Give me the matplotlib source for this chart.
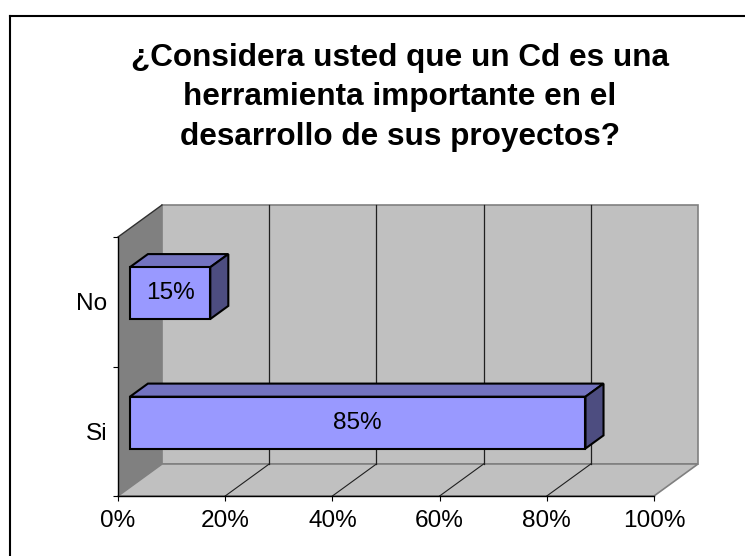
import matplotlib
matplotlib.use('Agg')
import matplotlib.pyplot as plt
from matplotlib.patches import Polygon
from matplotlib.lines import Line2D

# ---- data ----
categories = ['Si', 'No']
values = [85, 15]
bar_labels = ['85%', '15%']
xticks = [0, 20, 40, 60, 80, 100]
xticklabels = ['0%', '20%', '40%', '60%', '80%', '100%']
title = '¿Considera usted que un Cd es una\nherramienta importante en el\ndesarrollo de sus proyectos?'

plt.rcParams['font.family'] = ['Liberation Sans', 'DejaVu Sans']

W, H = 745, 556
fig = plt.figure(figsize=(W / 100, H / 100), dpi=100)
fig.patch.set_facecolor('white')

# front plane of the 3-D box
FX0, FX1, FY0, FY1 = 118, 654, 237, 496
ax = fig.add_axes([FX0 / W, (H - FY1) / H, (FX1 - FX0) / W, (FY1 - FY0) / H])
ax.set_xlim(0, 100)
ax.set_ylim(0, len(categories))
ax.patch.set_visible(False)

# oblique depth (pixels) converted to data units
DX, DY = 44, 32
ddx = DX / (FX1 - FX0) * 100
ddy = DY / (FY1 - FY0) * len(categories)


def P(x, y, d):
    return (x + d * ddx, y + d * ddy)


def poly(pts, fc, ec='none', lw=1.0, z=1):
    ax.add_patch(Polygon([P(*p) for p in pts], closed=True, facecolor=fc,
                         edgecolor=ec, linewidth=lw, clip_on=False, zorder=z))


def line(p0, p1, color, lw, z=2):
    a, b = P(*p0), P(*p1)
    ax.add_line(Line2D([a[0], b[0]], [a[1], b[1]], color=color, lw=lw,
                       clip_on=False, zorder=z))


ncat = len(categories)
xmax = xticks[-1]
# back wall
poly([(0, 0, 1), (xmax, 0, 1), (xmax, ncat, 1), (0, ncat, 1)], '#c0c0c0', '#808080', 1.2, 1)
# floor
poly([(0, 0, 0), (xmax, 0, 0), (xmax, 0, 1), (0, 0, 1)], '#c0c0c0', '#808080', 1.2, 1)
# left wall
poly([(0, 0, 0), (0, 0, 1), (0, ncat, 1), (0, ncat, 0)], '#808080', 'none', 1, 1.5)
line((0, ncat, 0), (0, ncat, 1), '#303030', 1.0, 1.6)

# gridlines on back wall and floor
for v in xticks[1:-1]:
    line((v, 0, 1), (v, ncat, 1), '#202020', 0.9, 1.7)
    line((v, 0, 0), (v, 0, 1), '#202020', 0.8, 1.7)

# bars
d0, d1, h = 0.27, 0.68, 0.4
for i, (val, lab) in enumerate(zip(values, bar_labels)):
    yc = i + 0.5
    y0, y1 = yc - h / 2, yc + h / 2
    z = 3 + i
    poly([(0, y1, d0), (val, y1, d0), (val, y1, d1), (0, y1, d1)], '#7373c0', 'black', 1.5, z)
    poly([(val, y0, d0), (val, y0, d1), (val, y1, d1), (val, y1, d0)], '#4d4d80', 'black', 1.5, z)
    poly([(0, y0, d0), (val, y0, d0), (val, y1, d0), (0, y1, d0)], '#9999ff', 'black', 1.5, z)
    cx, cy = P(val / 2, yc, d0)
    ax.text(cx, cy, lab, ha='center', va='center', fontsize=17.6, color='black', zorder=z + 0.5)

# axes / ticks
for s in ['top', 'right']:
    ax.spines[s].set_visible(False)
for s in ['left', 'bottom']:
    ax.spines[s].set_color('black')
    ax.spines[s].set_linewidth(1.0)
    ax.spines[s].set_zorder(10)
ax.set_xticks(xticks, xticklabels)
ax.set_yticks(list(range(ncat + 1)), [''] * (ncat + 1))
ax.set_yticks([i + 0.5 for i in range(ncat)], categories, minor=True)
ax.tick_params(axis='x', direction='out', length=3.6, width=0.8, pad=6.6, labelsize=17.6)
ax.tick_params(axis='y', which='major', direction='out', length=3.6, width=0.8)
ax.tick_params(axis='y', which='minor', length=0, pad=7.6, labelsize=17.6)

# title
fig.text(400 / W, 1 - 43 / H, title, ha='center', va='top', fontsize=22.7,
         fontweight='bold', linespacing=1.41)

# chart border (top and left visible, extends past image edge)
fig.add_artist(Line2D([10 / W, 10 / W], [0, 1 - 16 / H], transform=fig.transFigure,
                      color='black', lw=1.5))
fig.add_artist(Line2D([10 / W, 1], [1 - 16 / H, 1 - 16 / H], transform=fig.transFigure,
                      color='black', lw=1.5))

fig.savefig('out.png', dpi=100)
